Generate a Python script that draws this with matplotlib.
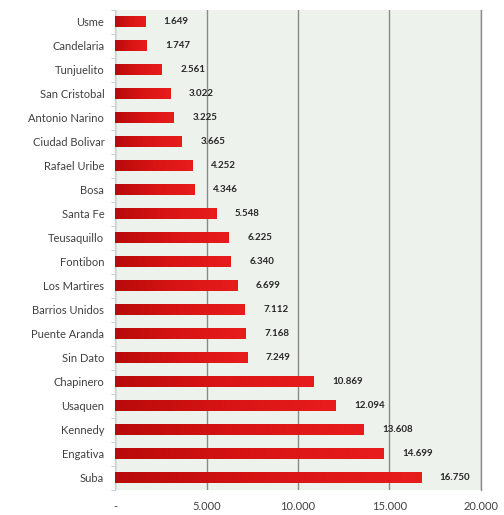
import numpy as np
import matplotlib
matplotlib.use("Agg")
import matplotlib.pyplot as plt
from matplotlib.colors import LinearSegmentedColormap
from matplotlib.ticker import FixedLocator, FuncFormatter

localidades = [
    "Usme", "Candelaria", "Tunjuelito", "San Cristobal", "Antonio Narino",
    "Ciudad Bolivar", "Rafael Uribe", "Bosa", "Santa Fe", "Teusaquillo",
    "Fontibon", "Los Martires", "Barrios Unidos", "Puente Aranda", "Sin Dato",
    "Chapinero", "Usaquen", "Kennedy", "Engativa", "Suba",
]
casos = [
    1649, 1747, 2561, 3022, 3225,
    3665, 4252, 4346, 5548, 6225,
    6340, 6699, 7112, 7168, 7249,
    10869, 12094, 13608, 14699, 16750,
]
x_ticks = [0, 5000, 10000, 15000, 20000]


def miles(v, pos=None):
    # Spanish style thousands separator, zero shown as a dash
    if v == 0:
        return "-"
    return f"{int(v):,}".replace(",", ".")


plt.rcParams["font.family"] = ["Lato", "DejaVu Sans"]

fig = plt.figure(figsize=(5.04, 5.15), dpi=100)
ax = fig.add_axes([0.229, 0.049, 0.725, 0.932])
ax.set_facecolor("#eef2ec")

y = np.arange(len(localidades))
bars = ax.barh(y, casos, height=0.47, color="#d41414", zorder=3)

# horizontal red gradient inside every bar
red_grad = LinearSegmentedColormap.from_list("rojo", ["#b80a0a", "#d81414", "#e81c1c"])
grad = np.linspace(0, 1, 256).reshape(1, -1)
for patch in bars:
    x0, y0 = patch.get_x(), patch.get_y()
    w, h = patch.get_width(), patch.get_height()
    im = ax.imshow(grad, extent=[x0, x0 + w, y0 + h, y0], cmap=red_grad,
                   aspect="auto", zorder=4, interpolation="bilinear")
    im.set_clip_path(patch)

for yi, v in zip(y, casos):
    ax.annotate(miles(v), xy=(v, yi), xytext=(13, 0), textcoords="offset points",
                ha="left", va="center", fontsize=7, fontweight="bold",
                color="#262626", zorder=5)

ax.set_xlim(0, 20000)
ax.set_ylim(len(localidades) - 0.5, -0.5)
ax.xaxis.set_major_locator(FixedLocator(x_ticks))
ax.xaxis.set_major_formatter(FuncFormatter(miles))
ax.set_yticks(y)
ax.set_yticklabels(localidades)
ax.set_yticks(np.arange(-0.5, len(localidades), 1), minor=True)

ax.grid(axis="x", color="#8a8a8a", linewidth=1.0, zorder=1)
ax.tick_params(axis="x", length=0, labelsize=8, colors="#404040", pad=8)
ax.tick_params(axis="y", which="major", length=0, labelsize=8, colors="#404040", pad=8)
ax.tick_params(axis="y", which="minor", length=3, color="#c8d0d8", width=0.8)

for side in ["top", "bottom"]:
    ax.spines[side].set_visible(False)
ax.spines["left"].set_color("#c8d0d8")
ax.spines["left"].set_linewidth(0.8)
ax.spines["right"].set_color("#8a8a8a")
ax.spines["right"].set_linewidth(1.0)

fig.savefig("out.png", dpi=100, facecolor="white")
